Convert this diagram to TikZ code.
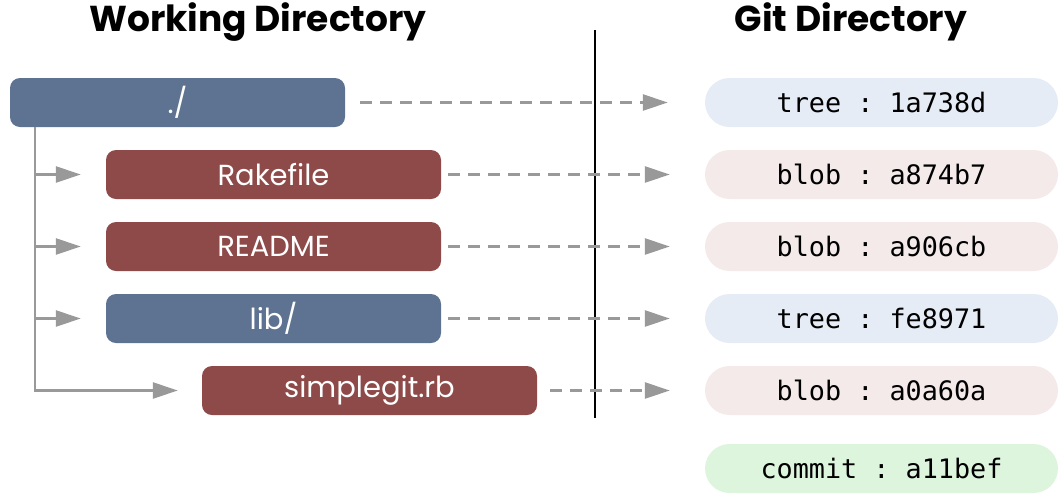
\documentclass[tikz,border=0pt]{standalone}
\usepackage{fontspec}
\setmainfont{Poppins}
\setmonofont{DejaVu Sans Mono}
\usetikzlibrary{arrows.meta,positioning}
\definecolor{dirblue}{HTML}{5E7391}
\definecolor{filered}{HTML}{8E4A49}
\definecolor{treefill}{HTML}{E5ECF6}
\definecolor{blobfill}{HTML}{F5EAEA}
\definecolor{commitfill}{HTML}{DDF5DD}
\definecolor{linkgray}{HTML}{999999}
\tikzstyle{title} = [font=\bfseries\fontsize{36}{38}\selectfont]
\tikzstyle{wdbox} = [rectangle, rounded corners=10pt, minimum width=335pt, minimum height=49pt, inner sep=0pt, text=white, font=\fontsize{29}{31}\selectfont]
\tikzstyle{treebox} = [wdbox, fill=dirblue]
\tikzstyle{blobbox} = [wdbox, fill=filered]
\tikzstyle{gitobj} = [rectangle, rounded corners=24.5pt, minimum width=353pt, minimum height=49pt, inner sep=0pt, font=\ttfamily\fontsize{26.8}{28}\selectfont]
\tikzstyle{link} = [linkgray, line width=2.5pt, dash pattern=on 12pt off 8pt, -{Triangle[length=25pt,width=16pt]}]
\tikzstyle{branch} = [linkgray, line width=2.5pt, -{Triangle[length=25pt,width=16pt]}]

\begin{document}
\begin{tikzpicture}[x=1pt,y=-1pt]
\useasboundingbox (0,0) rectangle (1064,493);
% titles
\node[title] (wdtitle) at (258,22) {Working Directory};
\node[title] (gittitle) at (851,22) {Git Directory};
% working directory
\node[treebox] (root) at (177.5,102.5) {./};
\node[blobbox] (rake) at (273.5,174.5) {Rakefile};
\node[blobbox] (readme) at (273.5,246.5) {README};
\node[treebox] (lib) at (273.5,318.5) {lib/};
\node[blobbox] (simple) at (369.5,390.5) {simplegit.rb};
% git directory
\node[gitobj, fill=treefill] (tree1) at (881.5,102.5) {tree : 1a738d};
\node[gitobj, fill=blobfill] (blob1) at (881.5,174.5) {blob : a874b7};
\node[gitobj, fill=blobfill] (blob2) at (881.5,246.5) {blob : a906cb};
\node[gitobj, fill=treefill] (tree2) at (881.5,318.5) {tree : fe8971};
\node[gitobj, fill=blobfill] (blob3) at (881.5,390.5) {blob : a0a60a};
\node[gitobj, fill=commitfill] (commit) at (881.5,468.5) {commit : a11bef};
% divider
\coordinate (divtop) at (595,30);
\coordinate (divbot) at (595,418);
\draw[line width=2.5pt] (divtop) -- (divbot);
% tree structure
\coordinate (trunk) at ([xshift=25pt]root.south west);
\draw[branch] (trunk) |- ([xshift=-24pt]simple.west);
\foreach \f in {rake,readme,lib}
  \draw[branch] (trunk |- \f.west) -- ([xshift=-25pt]\f.west);
% links to objects
\draw[link] ([xshift=15pt]root.east) -- ([xshift=-37pt]tree1.west);
\draw[link] ([xshift=7pt]rake.east) -- ([xshift=-35pt]blob1.west);
\draw[link] ([xshift=7pt]readme.east) -- ([xshift=-35pt]blob2.west);
\draw[link] ([xshift=7pt]lib.east) -- ([xshift=-35pt]tree2.west);
\draw[link] ([xshift=13pt]simple.east) -- ([xshift=-35pt]blob3.west);
\end{tikzpicture}
\end{document}
